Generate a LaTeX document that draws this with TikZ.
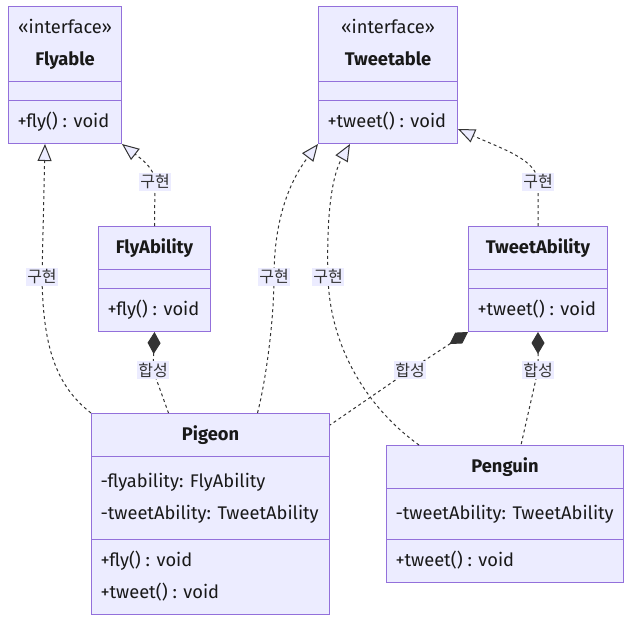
\documentclass[tikz,border=0pt]{standalone}
\usepackage{fontspec}
\setmainfont{Fira Sans}
\newfontfamily\korfont{Noto Sans CJK KR}
\usetikzlibrary{arrows.meta, positioning, shapes.multipart}
\definecolor{umlfill}{HTML}{ECECFF}
\definecolor{umlline}{HTML}{9370DB}
\definecolor{edgegray}{HTML}{333333}
\newcommand{\crow}[1]{\rule[-11pt]{0pt}{32pt}#1}
\newcommand{\topgap}{\rule{0pt}{25pt}}
\newcommand{\botgap}{\rule[-15pt]{0pt}{1pt}}
\renewcommand{\arraystretch}{0.5}

\begin{document}
\begin{tikzpicture}[
  x=1pt, y=-1pt,
  every node/.style={font=\fontsize{18.3}{32}\selectfont, text=black!90},
  cls/.style={draw=umlline, fill=umlfill, line width=1pt, rectangle split, rectangle split parts=3,
    rectangle split part align={center,left,left}, align=left, inner xsep=9pt, inner ysep=5pt, anchor=north west},
  lbl/.style={fill=umlfill, inner sep=1.5pt, font=\korfont\fontsize{16}{18}\selectfont, text=edgegray},
  impl/.style={draw=edgegray, line width=1pt, dash pattern=on 3pt off 3pt, -{Triangle[length=17pt, width=14pt, fill=umlfill]}},
  comp/.style={draw=edgegray, line width=1pt, dash pattern=on 3pt off 3pt, {Diamond[length=22pt, width=13pt, fill=edgegray]}-}
]
\useasboundingbox (0,0) rectangle (630,621);

% Nodes
\node[cls, minimum width=113pt] (flyable) at (8,6)
  {\begin{tabular}{@{}c@{}}\crow{«interface»}\\\crow{\textbf{Flyable}}\end{tabular}
   \nodepart{two}\rule{0pt}{8pt}
   \nodepart{three}\crow{+fly() : void}};
\node[cls, minimum width=139pt] (tweetable) at (318,6)
  {\begin{tabular}{@{}c@{}}\crow{«interface»}\\\crow{\textbf{Tweetable}}\end{tabular}
   \nodepart{two}\rule{0pt}{8pt}
   \nodepart{three}\crow{+tweet() : void}};
\node[cls, minimum width=112pt] (flyability) at (98,226)
  {\crow{\textbf{FlyAbility}}
   \nodepart{two}\rule{0pt}{8pt}
   \nodepart{three}\crow{+fly() : void}};
\node[cls, minimum width=139pt] (tweetability) at (468,226)
  {\crow{\textbf{TweetAbility}}
   \nodepart{two}\rule{0pt}{8pt}
   \nodepart{three}\crow{+tweet() : void}};
\node[cls, minimum width=238pt] (pigeon) at (91,413)
  {\crow{\textbf{Pigeon}}
   \nodepart{two}\crow{\topgap-flyability: FlyAbility}\\\crow{\botgap-tweetAbility: TweetAbility}
   \nodepart{three}\crow{+fly() : void}\\\crow{+tweet() : void}};
\node[cls, minimum width=237pt] (penguin) at (386,445)
  {\crow{\textbf{Penguin}}
   \nodepart{two}\crow{\topgap\botgap-tweetAbility: TweetAbility}
   \nodepart{three}\crow{+tweet() : void}};

% Label points
\coordinate (imp1) at (42,277);
\coordinate (imp2) at (155,182);
\coordinate (imp3) at (274,277);
\coordinate (imp4) at (328,277);
\coordinate (imp5) at (538,182);
\coordinate (cmp1) at (153,370);
\coordinate (cmp2) at (410,370);
\coordinate (cmp3) at (538,370);

% Arrows
\draw[impl] (pigeon.north west) .. controls (55,385) and (43,345) .. (imp1) -- ([xshift=-20pt]flyable.south);
\draw[impl] (flyability.north) -- (imp2) .. controls (155,168) and (140,158) .. (flyable.south east);
\draw[impl] ([xshift=47pt]pigeon.north) .. controls (266,380) and (274,320) .. (imp3)
  .. controls (274,215) and (292,178) .. (tweetable.south west);
\draw[impl] ([xshift=-86pt]penguin.north) .. controls (370,410) and (330,350) .. (imp4)
  .. controls (326,205) and (334,172) .. ([xshift=-38pt]tweetable.south);
\draw[impl] (tweetability.north) -- (imp5) .. controls (537,160) and (505,150) .. ([yshift=15pt]tweetable.south east);
\draw[comp] (flyability.south) -- (cmp1) -- ([xshift=-42pt]pigeon.north);
\draw[comp] (tweetability.south west) -- (cmp2) -- ([yshift=-12pt]pigeon.north east);
\draw[comp] (tweetability.south) -- (cmp3) -- ([xshift=16pt]penguin.north);

% Labels
\foreach \p in {imp1, imp2, imp3, imp4, imp5}
  \node[lbl] at (\p) {구현};
\foreach \p in {cmp1, cmp2, cmp3}
  \node[lbl] at (\p) {합성};

\end{tikzpicture}
\end{document}
